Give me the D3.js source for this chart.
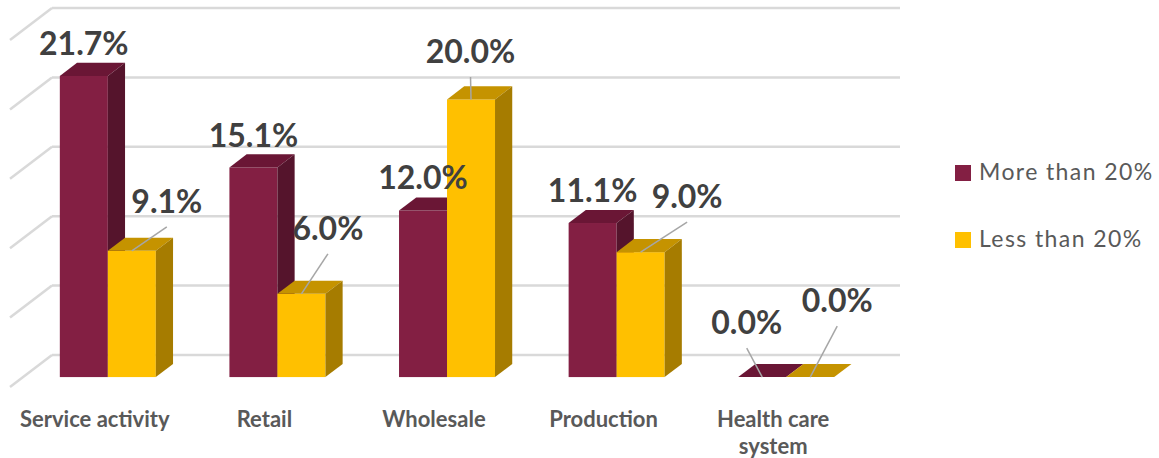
<!DOCTYPE html>
<html>
<head>
<meta charset="utf-8">
<script src="https://cdn.jsdelivr.net/npm/d3@7"></script>
<style>
  html, body { margin: 0; padding: 0; background: #ffffff; }
  svg { display: block; }
  text { font-family: Lato, "Open Sans", sans-serif; }
</style>
</head>
<body>
<svg id="chart" width="1159" height="458"></svg>
<script>
// Share of companies by sector, split by threshold group (values in %)
const categories = ["Service activity", "Retail", "Wholesale", "Production", "Health care system"];
const seriesNames = ["More than 20%", "Less than 20%"];
const moreThan20 = [21.7, 15.1, 12.0, 11.1, 0.0];
const lessThan20 = [9.1, 6.0, 20.0, 9.0, 0.0];
const gridTicks = [0, 5, 10, 15, 20, 25];

// Label placement relative to the centre of each bar's front-top edge: [dx, dy, leader]
const labelOffsets = [
  [[0, -21, false], [0, -20, false], [0, -22, false], [0, -21, false], [-15.5, -43, true]],
  [[35, -38, true], [26.5, -54, true], [-0.5, -36.4, true], [46.5, -44, true], [27, -65, true]]
];

const colors = [
  { front: "#831F43", top: "#6A1635", side: "#55142C" },
  { front: "#FFC000", top: "#C59300", side: "#A67C00" }
];

const svg = d3.select("#chart");

// Back wall of the 3-D plot area and the floor depth vector
const wallLeft = 52, wallRight = 900;
const depth = [-42, 32];
const tFront = 0.69, tBack = 0.28;

const y = d3.scaleLinear().domain([0, 25]).range([355, 8]);
const xBack = d3.scaleBand().domain(categories).range([wallLeft, wallRight])
  .paddingInner(0.434).paddingOuter(0.217);
const xSeries = d3.scaleBand().domain(seriesNames).range([0, xBack.bandwidth()]);
const xFloor = d3.scaleBand().domain(categories).range([wallLeft + depth[0], wallRight + depth[0]]);

// Gridlines on the back wall and the side wall
const grid = svg.append("g").attr("stroke", "#D9D9D9").attr("stroke-width", 2.5).attr("fill", "none");
grid.selectAll("line.back").data(gridTicks).join("line")
  .attr("class", "back")
  .attr("x1", wallLeft).attr("x2", wallRight)
  .attr("y1", d => y(d)).attr("y2", d => y(d));
grid.selectAll("line.side").data(gridTicks).join("line")
  .attr("class", "side")
  .attr("x1", wallLeft).attr("y1", d => y(d))
  .attr("x2", wallLeft + depth[0]).attr("y2", d => y(d) + depth[1]);

const seriesValues = [moreThan20, lessThan20];

function barGeom(ci, si) {
  const v = seriesValues[si][ci];
  const xb = xBack(categories[ci]) + xSeries(seriesNames[si]);
  const w = xSeries.bandwidth();
  const xf = xb + tFront * depth[0];
  const xk = xb + tBack * depth[0];
  const yfTop = y(v) + tFront * depth[1];
  const yfBot = y(0) + tFront * depth[1];
  const ykTop = y(v) + tBack * depth[1];
  const ykBot = y(0) + tBack * depth[1];
  return { v, xf, xk, w, yfTop, yfBot, ykTop, ykBot };
}

const bars = [];
categories.forEach((c, ci) => seriesNames.forEach((s, si) => bars.push({ ci, si, g: barGeom(ci, si) })));

const barG = svg.append("g");
const pts = a => a.map(p => p.join(",")).join(" ");
bars.forEach(b => {
  const g = b.g, col = colors[b.si];
  const grp = barG.append("g");
  if (g.yfBot - g.yfTop > 0) {
    grp.append("rect").attr("x", g.xf).attr("y", g.yfTop)
      .attr("width", g.w).attr("height", g.yfBot - g.yfTop).attr("fill", col.front);
  }
  grp.append("polygon").attr("fill", col.top).attr("points", pts([
    [g.xf, g.yfTop], [g.xf + g.w, g.yfTop], [g.xk + g.w, g.ykTop], [g.xk, g.ykTop]
  ]));
  if (g.yfBot - g.yfTop > 0) {
    grp.append("polygon").attr("fill", col.side).attr("points", pts([
      [g.xf + g.w, g.yfTop], [g.xk + g.w, g.ykTop], [g.xk + g.w, g.ykBot], [g.xf + g.w, g.yfBot]
    ]));
  }
});

// Value labels with leader lines
const labelG = svg.append("g");
bars.forEach(b => {
  const g = b.g;
  const [dx, dy, leader] = labelOffsets[b.si][b.ci];
  const cx = g.xf + g.w / 2;
  const lx = cx + dx, ly = g.yfTop + dy;
  if (leader) {
    labelG.append("line")
      .attr("x1", lx).attr("y1", ly + 14)
      .attr("x2", cx).attr("y2", g.yfTop)
      .attr("stroke", "#A6A6A6").attr("stroke-width", 1.5);
  }
  labelG.append("text")
    .attr("x", lx).attr("y", ly)
    .attr("text-anchor", "middle")
    .attr("font-size", 32).attr("font-weight", 700)
    .attr("fill", "#404040")
    .text(d3.format(".1f")(g.v) + "%");
});

// Category labels (wrapped)
const catLines = { "Health care system": ["Health care", "system"] };
const catG = svg.append("g");
categories.forEach(c => {
  const lines = catLines[c] || [c];
  const t = catG.append("text")
    .attr("x", xFloor(c) + xFloor.bandwidth() / 2)
    .attr("y", 427)
    .attr("text-anchor", "middle")
    .attr("font-size", 22).attr("font-weight", 700)
    .attr("fill", "#595959");
  lines.forEach((l, i) => {
    t.append("tspan").attr("x", xFloor(c) + xFloor.bandwidth() / 2)
      .attr("dy", i === 0 ? 0 : 27).text(l);
  });
});

// Legend
const legend = svg.append("g");
seriesNames.forEach((s, i) => {
  const ly = 165 + i * 67;
  legend.append("rect").attr("x", 955).attr("y", ly).attr("width", 16).attr("height", 16)
    .attr("fill", colors[i].front);
  legend.append("text").attr("x", 979).attr("y", ly + 15)
    .attr("font-size", 23).attr("fill", "#595959")
    .attr("letter-spacing", 1.4)
    .text(s);
});
</script>
</body>
</html>
